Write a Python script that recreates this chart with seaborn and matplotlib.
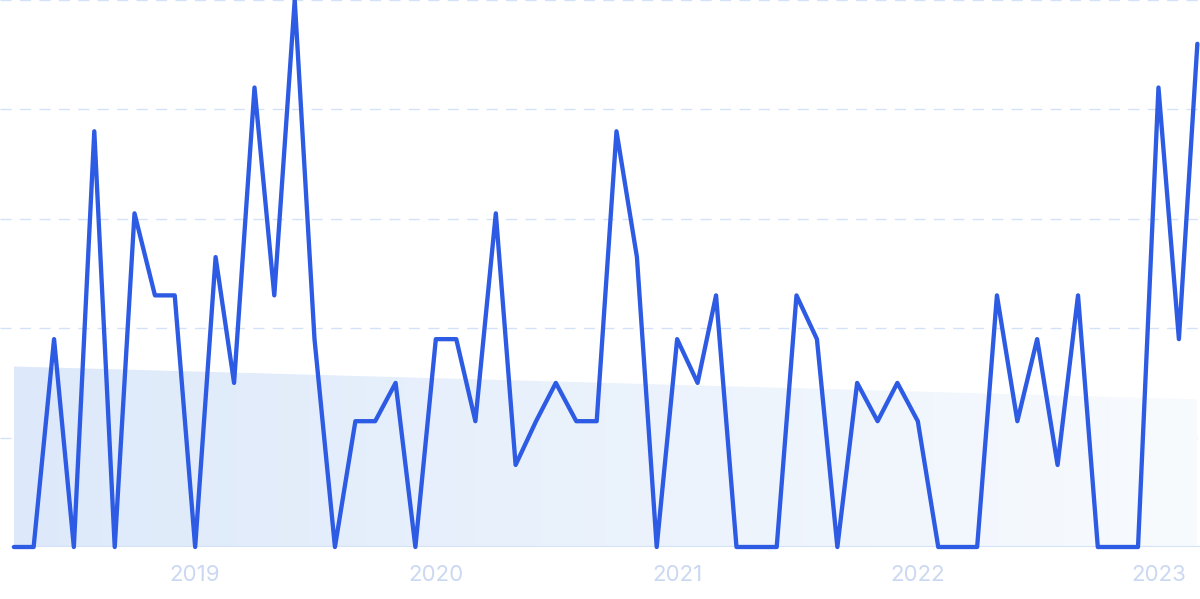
import numpy as np
import pandas as pd
import seaborn as sns
import matplotlib.pyplot as plt
import matplotlib.dates as mdates
from matplotlib.colors import LinearSegmentedColormap

# Monthly values (Apr 2018 - Mar 2023)
months = pd.date_range('2018-04-01', periods=60, freq='MS')
values = [0, 0, 38, 0, 76, 0, 61, 46, 46, 0,
          53, 30, 84, 46, 100, 38, 0, 23, 23, 30,
          0, 38, 38, 23, 61, 15, 23, 30, 23, 23,
          76, 53, 0, 38, 30, 46, 0, 0, 0, 46,
          38, 0, 30, 23, 30, 23, 0, 0, 0, 46,
          23, 38, 15, 46, 0, 0, 0, 84, 38, 92]
# Linear trend, start and end values
trend_start = 33.0
trend_end = 27.0
year_ticks = ['2019-01-01', '2020-01-01', '2021-01-01', '2022-01-01', '2023-01-01']
year_labels = ['2019', '2020', '2021', '2022', '2023']

df = pd.DataFrame({'month': months, 'value': values})

sns.set_style('white')
plt.rcParams['font.family'] = ['Inter', 'DejaVu Sans']

fig = plt.figure(figsize=(12, 5.99), dpi=100)
ax = fig.add_axes([0, 52 / 599, 1, 1 - 52 / 599])

# Trend area with a fading gradient
x_num = mdates.date2num(df['month'])
trend_y = [trend_start, trend_end]
trend_x = [x_num[0], x_num[-1]]
poly = ax.fill_between(trend_x, 0, trend_y, color='none', lw=0)
cmap = LinearSegmentedColormap.from_list('fade', ['#dde9fa', '#f8fbfe'])
grad = np.linspace(0, 1, 256).reshape(1, -1)
img = ax.imshow(grad, cmap=cmap, aspect='auto',
                extent=[x_num[0], x_num[-1], 0, max(trend_y)], zorder=1)
img.set_clip_path(poly.get_paths()[0], transform=ax.transData)

# Main line
sns.lineplot(data=df, x='month', y='value', ax=ax, color='#2d5be3',
             linewidth=3.1, zorder=3, clip_on=False)

# Gridlines and baseline
for g in [20, 40, 60, 80, 100]:
    ax.axhline(g, color='#d3e2f8', lw=1, ls=(0, (8, 6)), zorder=0)
ax.plot([x_num[0], x_num[-1] + 10], [0, 0], color='#d3e2f7', lw=1.5, zorder=2)

ax.set_ylim(0, 100)
ax.set_xlim(x_num[0] - 21, x_num[-1] + 4)
ax.set_xticks(mdates.date2num(pd.to_datetime(year_ticks)))
ax.set_xticklabels(year_labels)
ax.tick_params(axis='x', length=0, pad=13, labelsize=16, labelcolor='#cbd8f2')
ax.set_yticks([])
ax.set_xlabel('')
ax.set_ylabel('')
for s in ax.spines.values():
    s.set_visible(False)

fig.savefig('out.png', dpi=100)
